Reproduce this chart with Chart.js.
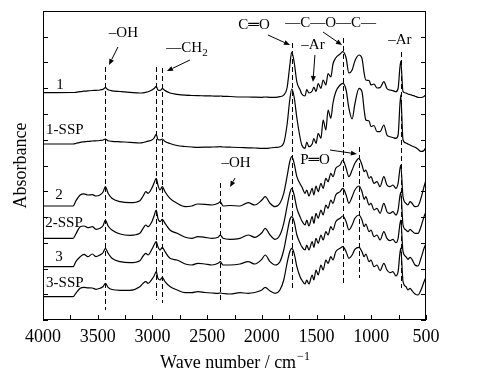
<!DOCTYPE html>
<html><head><meta charset="utf-8">
<script src="https://cdn.jsdelivr.net/npm/chart.js@4"></script>
<style>html,body{margin:0;padding:0;background:#fff}canvas{display:block}</style>
</head><body>
<canvas id="c" width="485" height="383"></canvas>
<script>
// Wave number grid (cm^-1)
const wavenumbers = [4000,3725,3700,3660,3625,3590,3550,3515,3480,3450,3430,3405,3370,3295,3205,3115,3085,3060,3040,3005,2985,2965,2950,2930,2910,2885,2840,2775,2700,2640,2585,2520,2455,2400,2380,2355,2290,2200,2125,2065,2000,1970,1925,1880,1835,1800,1770,1745,1727,1705,1680,1650,1635,1605,1590,1570,1540,1525,1505,1485,1460,1440,1415,1395,1370,1350,1325,1285,1260,1230,1205,1175,1150,1112,1085,1065,1050,1020,1003,975,948,920,885,857,830,802,775,755,731,710,683,665,646,628,600,573,546,518,500];

// Stacked absorbance (offset, arbitrary units)
const abs1 = [227.3,227.5,227.7,228.3,228.8,229.2,229.5,229.7,230,230.8,
232.3,230.2,229.2,228.5,227.7,227,227.2,227.7,228.2,230,
231.5,233.7,230,229.5,231.3,229.5,227,225.7,224.8,224.5,
224.3,224.2,224,223.8,224,223.7,223.5,223,223,222.8,
222.7,223,222.7,222.7,223.3,225,232,254,268,258,
238,230,226,224,230.5,227,229,233,228.5,236.5,
231.5,240,235,246.5,243,256,262,266,268.3,262,
247,250,259,265,261.7,246.7,240,239.5,235,236,
232,232.3,238.3,231.5,230,229.3,228.3,231.5,259,228.3,
227,226,225.5,224.8,223.8,222.7,222.5,223.5,225.5];

const abs1SSP = [176,176,176.5,177.7,178.2,178.7,179,179.2,179.5,180,
181,179.2,178.7,178.2,177.7,177,177.5,178.2,178.8,180,
182,186,180.5,180,181,178.5,176.5,174.5,173.5,173,
172.7,172.8,173,173.2,173.3,173,172.8,172.5,172.2,172,
171.7,171.7,172,172.5,173.3,177,195,220,231,223,
202,182,175,171.7,178,173.3,176,181.5,176.7,186.7,
181.7,200,190,210,201.7,217,228,235,236.7,230,
212,201,216,231.7,228.3,210,200,199,193.3,194.5,
188.3,188.3,195,185,183.3,182.5,181.7,185,225,180,
177,176,175,174,172.7,170.7,168.5,169.5,173];

const abs2 = [114,114,119,125,126.2,125,125.3,124,125,128.3,
133.3,126.7,121.7,118.3,117.3,119.3,124,128.3,126.7,132,
137,141.7,135,130,133.3,128.3,121.7,116.7,113.3,114,
116,115.7,115,116.7,118.3,114,114.5,114,117.3,115,
120,123.3,116.7,113.3,116.7,126.7,143.3,158.3,163.3,156.7,
143.3,136,133.3,126.7,130,124,131.7,125,134,128.3,
136.7,131.7,141.7,138.3,146.7,143.3,151.7,155,160,151.7,
143.3,150,156.7,161.7,155,148.3,150,141.7,143.3,136.7,
138.3,133.3,143.3,135,133.3,135,131.7,136.7,155,123.3,
116.7,115,118.3,116.7,113.3,114,121.7,133.3,140];

const abs2SSP = [81.7,81.7,86,93.3,94,92.3,93.3,90.7,91.7,94.5,
100,94,90,86,84.7,86.7,91.7,95,93.3,98.3,
104,110,101.7,98.3,100.7,96.7,90,86.7,82.7,81.7,
83.3,82.7,81.7,82.7,85,81.7,80.7,81.7,85,82.7,
87.3,91.7,85,80.7,85,96.7,113.3,126.7,131.7,125,
111.7,103,99.3,95,100,94,103.3,96.7,106.7,101.7,
110,105,115,111.7,120,116.7,125,128.3,131.7,125,
116.7,123.3,130,134,128.3,120.7,123.3,115,116.7,110,
111.7,106.7,116.7,108.3,106.7,108.3,105,110,128,95,
90,88.3,90.7,89,86.7,86.7,93.3,103.3,108.3];

const abs3 = [53.3,53.3,58.3,63.3,65.7,63.3,66,63.3,65,67.5,
71.7,66.7,61.7,58.3,57.3,59.3,64,66.7,65,70.7,
75,78.3,73.3,70,72.7,68.3,61.7,60,56,55,
56.7,56,55,56.7,58.3,55,55,56,58.3,56,
60.7,65,58.3,55,58.3,70,86.7,100,103.3,98.3,
85,76.7,73.3,70,75,70,78.3,72.7,81.7,76.7,
85,80,88.3,85,93.3,90,98.3,101.7,104,98.3,
90,95,101.7,105,100,93.3,96,88.3,90,83.3,
85,80,88.3,81.7,79.3,80.7,77.3,81.7,100,68.3,
63.3,60.7,62.7,60.7,55,54,61.7,71.7,76.7];

const abs3SSP = [23.3,23.3,26.7,31.7,32.7,32.2,32,30.7,31.7,33.5,
36.7,32.7,30.5,29.7,29.7,33.3,36.7,38.3,36.7,40.7,
44,48.3,41.7,40,42.7,38.3,33.5,30,27.3,27.3,
28.3,27.5,27,26.7,27,26.5,26,27.3,26.7,27.5,
30,32.7,29,26.7,30,40,56.7,68.3,71.7,66.7,
53.3,43,40,36,40,36,45,40,50,45,
55,50,60,56.7,63.3,60,68.3,71.7,73.3,68.3,
61.7,65,70.7,72.7,68.3,63.3,66,58.3,60,53.3,
55,49.3,56.7,50,47.3,48.3,44,48.3,72,38.3,
33.3,30,31.7,29.3,26,25,30,38.3,43.3];

const seriesNames = ['1','1-SSP','2','2-SSP','3','3-SSP'];
const seriesValues = [abs1, abs1SSP, abs2, abs2SSP, abs3, abs3SSP];
const xTickLabels = [4000,3500,3000,2500,2000,1500,1000,500];

// Band marker lines: wavenumber, top value, bottom value
const bandWN   = [3430, 2965, 2910, 2380, 1727, 1261, 1112, 731];
const bandTop  = [253, 253, 252, 137, 277, 282, 173, 268];
const bandBot  = [10, 20, 17, 17, 30, 37, 42, 32];

// Labels placed in data coordinates
const seriesLabelPos = [[3845,235],[3800,190],[3854,125],[3808,97],[3854,63],[3800,37]];
const annotations = [
  {t:'–OH', wn:3265, v:287, arrow:[3315,273,3397,255]},
  {t:'—CH', sub:'2', wn:2684, v:272, arrow:[2657,260,2867,249]},
  {t:'C═O', wn:2072, v:295, arrow:[1944,285,1743,275]},
  {t:'—C—O—C—', wn:1372, v:297, arrow:[1441,288,1268,275]},
  {t:'–Ar', wn:1533, v:275, arrow:[1515,265,1533,238]},
  {t:'–Ar', wn:738, v:280},
  {t:'P═O', wn:1514, v:160, arrow:[1377,170,1131,166]},
  {t:'–OH', wn:2236, v:157, arrow:[2245,142,2291,133]}
];

const SERIF = '"Liberation Serif","Times New Roman",serif';

const decor = {
  id:'decor',
  afterDraw(chart){
    const {ctx, chartArea:a, scales:{x,y}} = chart;
    ctx.save();
    ctx.strokeStyle = '#000'; ctx.fillStyle = '#000'; ctx.lineWidth = 1;
    // frame
    ctx.strokeRect(a.left+0.5, a.top+0.5, a.right-a.left-1, a.bottom-a.top-1);
    // inward ticks
    ctx.beginPath();
    x.ticks.forEach(t=>{
      const px = Math.round(x.getPixelForValue(t.value))+0.5;
      ctx.moveTo(px, a.bottom); ctx.lineTo(px, a.bottom-5);
    });
    y.ticks.forEach(t=>{
      const py = Math.round(y.getPixelForValue(t.value))+0.5;
      ctx.moveTo(a.left, py); ctx.lineTo(a.left+5, py);
      ctx.moveTo(a.right, py); ctx.lineTo(a.right-5, py);
    });
    ctx.stroke();
    // dashed band lines
    ctx.setLineDash([5,3]);
    ctx.beginPath();
    bandWN.forEach((w,i)=>{
      const px = Math.round(x.getPixelForValue(w))+0.5;
      ctx.moveTo(px, y.getPixelForValue(bandTop[i]));
      ctx.lineTo(px, y.getPixelForValue(bandBot[i]));
    });
    ctx.stroke();
    ctx.setLineDash([]);
    // series labels
    ctx.font = '15px '+SERIF;
    ctx.textAlign = 'center'; ctx.textBaseline = 'middle';
    seriesNames.forEach((n,i)=>{
      ctx.fillText(n, x.getPixelForValue(seriesLabelPos[i][0]), y.getPixelForValue(seriesLabelPos[i][1]));
    });
    // annotations
    annotations.forEach(an=>{
      const cx = x.getPixelForValue(an.wn), cy = y.getPixelForValue(an.v);
      ctx.font = '15px '+SERIF;
      if (an.sub){
        const w1 = ctx.measureText(an.t).width;
        ctx.font = '11px '+SERIF;
        const w2 = ctx.measureText(an.sub).width;
        const sx = cx - (w1+w2)/2;
        ctx.textAlign = 'left';
        ctx.font = '15px '+SERIF;
        ctx.fillText(an.t, sx, cy);
        ctx.font = '11px '+SERIF;
        ctx.fillText(an.sub, sx+w1, cy+5);
      } else {
        ctx.textAlign = 'center';
        ctx.fillText(an.t, cx, cy);
      }
      if (an.arrow){
        const x1 = x.getPixelForValue(an.arrow[0]), y1 = y.getPixelForValue(an.arrow[1]);
        const x2 = x.getPixelForValue(an.arrow[2]), y2 = y.getPixelForValue(an.arrow[3]);
        const ang = Math.atan2(y2-y1, x2-x1);
        const hl = 6, hw = 2.5;
        const bx = x2 - hl*Math.cos(ang), by = y2 - hl*Math.sin(ang);
        ctx.beginPath(); ctx.moveTo(x1,y1); ctx.lineTo(bx,by); ctx.stroke();
        ctx.beginPath();
        ctx.moveTo(x2,y2);
        ctx.lineTo(bx + hw*Math.sin(ang), by - hw*Math.cos(ang));
        ctx.lineTo(bx - hw*Math.sin(ang), by + hw*Math.cos(ang));
        ctx.closePath(); ctx.fill();
      }
    });
    // axis titles
    ctx.font = '18px '+SERIF;
    ctx.textAlign = 'left'; ctx.textBaseline = 'alphabetic';
    const main = 'Wave number / cm';
    const wm = ctx.measureText(main).width;
    ctx.font = '12px '+SERIF;
    const sup = '−1';
    const ws = ctx.measureText(sup).width;
    const sx = (a.left+a.right)/2 - (wm+ws)/2;
    ctx.font = '18px '+SERIF;
    ctx.fillText(main, sx, 368);
    ctx.font = '12px '+SERIF;
    ctx.fillText(sup, sx+wm+1, 360);
    ctx.save();
    ctx.translate(21, (a.top+a.bottom)/2);
    ctx.rotate(-Math.PI/2);
    ctx.font = '18px '+SERIF;
    ctx.textAlign = 'center'; ctx.textBaseline = 'middle';
    ctx.fillText('Absorbance', 0, 0);
    ctx.restore();
    ctx.restore();
  }
};

new Chart(document.getElementById('c'), {
  type:'line',
  data:{
    datasets: seriesValues.map((vals,i)=>({
      label: seriesNames[i],
      data: wavenumbers.map((w,j)=>({x:w, y:vals[j]})),
      borderColor:'#000', borderWidth:1.2, pointRadius:0,
      cubicInterpolationMode:'monotone', fill:false
    }))
  },
  options:{
    responsive:false, animation:false, devicePixelRatio:1,
    layout:{padding:{left:0, right:59, top:11, bottom:0}},
    plugins:{legend:{display:false}, tooltip:{enabled:false}},
    scales:{
      x:{type:'linear', reverse:true, min:500, max:4000,
        grid:{display:false, drawTicks:false}, border:{display:false},
        ticks:{stepSize:250, autoSkip:false, maxRotation:0, padding:6, color:'#000',
          font:{family:SERIF, size:18},
          callback:(v)=> xTickLabels.includes(v) ? String(v) : ''},
        afterFit:(s)=>{s.height = 63;}
      },
      y:{min:0, max:309, grid:{display:false, drawTicks:false}, border:{display:false},
        ticks:{display:false, stepSize:25.75},
        afterFit:(s)=>{s.width = 43;}
      }
    }
  },
  plugins:[decor]
});
</script>
</body></html>
